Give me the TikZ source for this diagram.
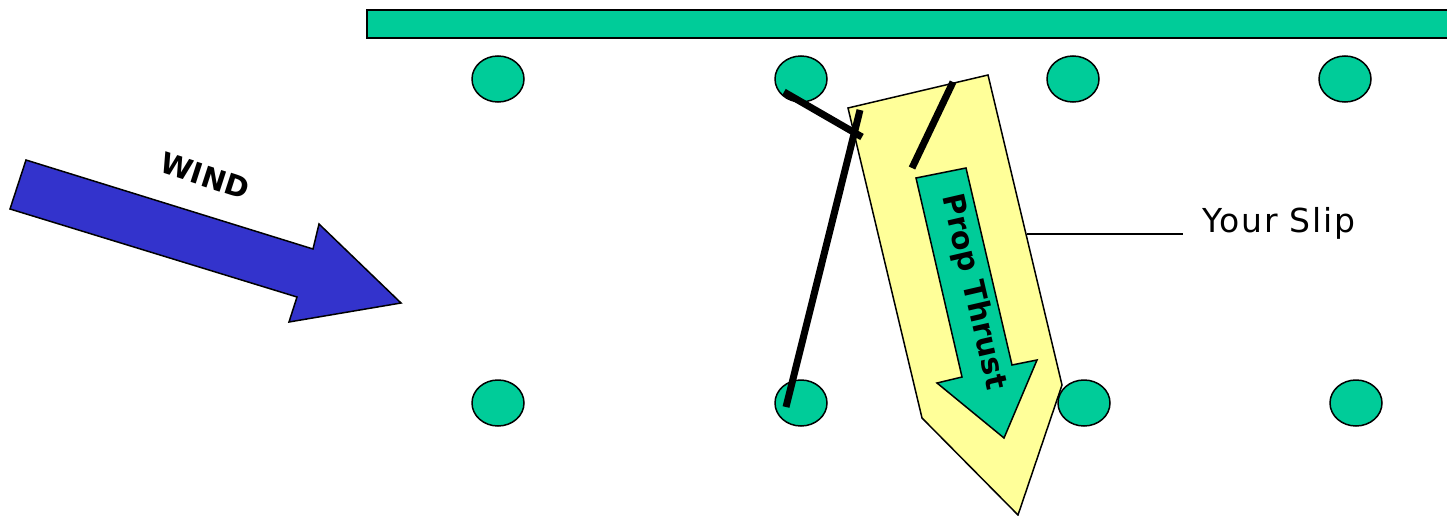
\documentclass[tikz,border=0pt]{standalone}
\usepackage{fontspec}
\setmainfont{DejaVu Sans}
\usetikzlibrary{shapes.geometric}
\definecolor{pgreen}{HTML}{00CC99}
\definecolor{pblue}{HTML}{3333CC}
\definecolor{pyellow}{HTML}{FFFF99}
\begin{document}
\begin{tikzpicture}[x=1pt,y=-1pt,
  outl/.style={draw=black,line width=1.5pt,line join=miter},
  post/.style={ellipse,draw=black,line width=1.5pt,fill=pgreen,minimum width=52pt,minimum height=46pt,inner sep=0pt},
  rope/.style={line width=7pt},
  boldlbl/.style={font=\bfseries\fontsize{29}{32}\selectfont,inner sep=0pt}]
\useasboundingbox (0,0) rectangle (1447,516);
% top bar
\path[outl,fill=pgreen] (367,10) rectangle (1460,38);
% posts
\node[post] (t1) at (498,79) {};
\node[post] (t2) at (801,79) {};
\node[post] (t3) at (1073,79) {};
\node[post] (t4) at (1345,79) {};
\node[post] (b1) at (498,403) {};
\node[post] (b2) at (801,403) {};
\node[post] (b3) at (1084,403) {};
\node[post] (b4) at (1356,403) {};
% wind arrow
\path[outl,fill=pblue] (26,160) -- (10,209) -- (297,297) -- (289,322) -- (401,303) -- (319,224) -- (313,249) -- cycle;
\node[boldlbl,rotate=-18] (wind) at (205,176) {WIND};
% slip
\path[outl,fill=pyellow] (848,108) -- (988,75) -- (1062,385) -- (1018,515) -- (922,418) -- cycle;
% prop thrust arrow
\path[outl,fill=pgreen] (916,178) -- (966,168) -- (1012,365) -- (1037,360) -- (1004,438) -- (937,383) -- (962,377) -- cycle;
\node[boldlbl,font=\bfseries\fontsize{30}{32}\selectfont,rotate=-77] (prop) at (973,292) {Prop Thrust};
% lines
\coordinate (l1a) at (784,92);
\coordinate (l1b) at (862,137);
\coordinate (l2a) at (860,110);
\coordinate (l2b) at (786,407);
\coordinate (l3a) at (953,82);
\coordinate (l3b) at (912,168);
\draw[rope] (l1a) -- (l1b);
\draw[rope] (l2a) -- (l2b);
\draw[rope] (l3a) -- (l3b);
% label
\node[anchor=west,inner sep=0pt,font=\fontsize{33}{36}\selectfont\addfontfeatures{LetterSpace=5}] (slip) at (1202,223) {Your Slip};
\coordinate (sl) at (1027,234);
\coordinate (sr) at (1183,234);
\draw[line width=1.5pt] (sl) -- (sr);
\end{tikzpicture}
\end{document}
